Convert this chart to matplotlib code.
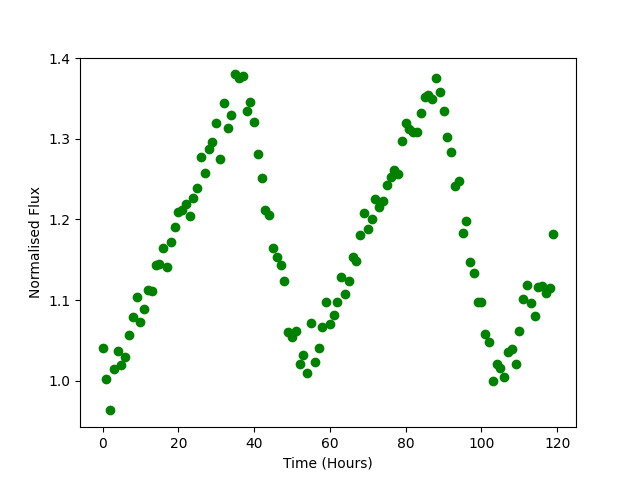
import numpy as np
import matplotlib
matplotlib.use('Agg')
import matplotlib.pyplot as plt

# Tiempo en horas y flujo normalizado
time_hours = np.arange(120)
flux = [
    1.040, 1.002, 0.963, 1.014, 1.037, 1.019, 1.029, 1.056, 1.079, 1.104,
    1.073, 1.089, 1.113, 1.111, 1.143, 1.145, 1.164, 1.141, 1.172, 1.190,
    1.209, 1.212, 1.219, 1.204, 1.226, 1.239, 1.277, 1.258, 1.288, 1.296,
    1.320, 1.275, 1.344, 1.314, 1.330, 1.380, 1.376, 1.378, 1.334, 1.346,
    1.321, 1.281, 1.252, 1.212, 1.205, 1.165, 1.154, 1.143, 1.123, 1.060,
    1.054, 1.061, 1.021, 1.032, 1.009, 1.072, 1.023, 1.040, 1.067, 1.097,
    1.070, 1.081, 1.097, 1.128, 1.107, 1.124, 1.153, 1.149, 1.181, 1.208,
    1.188, 1.200, 1.225, 1.216, 1.223, 1.243, 1.253, 1.261, 1.257, 1.297,
    1.320, 1.312, 1.308, 1.309, 1.332, 1.352, 1.354, 1.349, 1.376, 1.358,
    1.335, 1.302, 1.284, 1.242, 1.248, 1.183, 1.198, 1.147, 1.133, 1.098,
    1.098, 1.058, 1.048, 1.000, 1.021, 1.016, 1.005, 1.035, 1.039, 1.020,
    1.061, 1.101, 1.119, 1.096, 1.080, 1.116, 1.118, 1.109, 1.115, 1.182,
]

plt.figure(figsize=(6.4, 4.8), dpi=100)
plt.plot(time_hours, flux, 'o', color='green')
plt.xlabel("Time (Hours)")
plt.ylabel("Normalised Flux")
plt.savefig('out.png')
